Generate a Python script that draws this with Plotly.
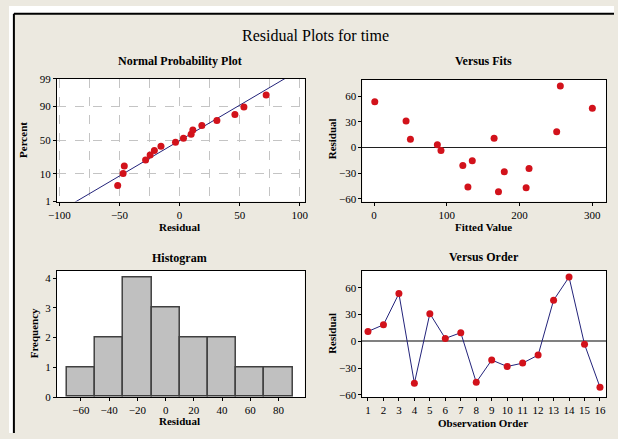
import plotly.graph_objects as go
from statistics import NormalDist, mean, stdev

# ---- data ----
observation = list(range(1, 17))
fitted = [165, 251, 1, 209, 44, 87, 50, 129, 122, 179, 213, 135, 300, 256, 92, 171]
residual = [11, 18.5, 53.5, -47, 31, 3.2, 9.6, -46, -21, -28.3, -24.5, -15.5, 46, 72, -3.4, -51.5]
pct_ticks = [1, 10, 50, 90, 99]
pct_labels = ["1", "10", "50", "90", "99"]

W, H = 618, 439
BG = "#ECE9E0"
RED = "#D2121B"
NAVY = "#23237A"
FONT = "Liberation Serif"

nd = NormalDist()
n = len(residual)
sorted_res = sorted(residual)
npp_z = [nd.inv_cdf((i + 1 - 0.3) / (n + 0.4)) for i in range(n)]
mu, sd = mean(residual), stdev(residual)
z_ticks = [nd.inv_cdf(p / 100) for p in pct_ticks]
line_z = [-2.6, 2.6]
line_x = [mu + sd * z for z in line_z]


def px(x):
    return x / W


def py(y):
    return 1 - y / H


fig = go.Figure()

# Normal probability plot
fig.add_trace(go.Scatter(x=line_x, y=line_z, mode="lines", line=dict(color=NAVY, width=1),
                         xaxis="x", yaxis="y", hoverinfo="skip"))
fig.add_trace(go.Scatter(x=sorted_res, y=npp_z, mode="markers",
                         marker=dict(color=RED, size=7), xaxis="x", yaxis="y"))
# Versus fits
fig.add_trace(go.Scatter(x=fitted, y=residual, mode="markers",
                         marker=dict(color=RED, size=7), xaxis="x2", yaxis="y2"))
# Histogram
fig.add_trace(go.Histogram(x=residual, xbins=dict(start=-70, end=90, size=20),
                           marker=dict(color="#C0C0C0", line=dict(color="#404040", width=1.5)),
                           xaxis="x3", yaxis="y3"))
# Versus order
fig.add_trace(go.Scatter(x=observation, y=residual, mode="lines+markers",
                         line=dict(color=NAVY, width=1),
                         marker=dict(color=RED, size=7), xaxis="x4", yaxis="y4"))

common = dict(showline=True, mirror=True, linecolor="black", linewidth=1,
              ticks="outside", ticklen=3, tickcolor="black",
              tickfont=dict(family=FONT, size=11, color="black"),
              zeroline=False, showgrid=False, fixedrange=True)

fig.update_layout(
    width=W, height=H, margin=dict(l=0, r=0, t=0, b=0),
    paper_bgcolor=BG, plot_bgcolor="white", showlegend=False, bargap=0,
    xaxis=dict(common, domain=[px(49), px(302)], range=[-102, 104], anchor="y",
               tickvals=[-100, -50, 0, 50, 100], showgrid=True, gridcolor="#C4C4C4",
               griddash="dash", minor=dict(tickvals=[-75, -25, 25, 75], showgrid=True,
                                           gridcolor="#C4C4C4", griddash="dash")),
    yaxis=dict(common, domain=[py(201), py(75)], range=[z_ticks[0], z_ticks[-1]], anchor="x",
               tickvals=z_ticks, ticktext=pct_labels, showgrid=True, gridcolor="#C4C4C4",
               griddash="dash"),
    xaxis2=dict(common, domain=[px(361), px(610)], range=[-16, 319], anchor="y2",
                tickvals=[0, 100, 200, 300]),
    yaxis2=dict(common, domain=[py(201), py(76)], range=[-63, 79], anchor="x2",
                tickvals=[-60, -30, 0, 30, 60], zeroline=True, zerolinecolor="#202020",
                zerolinewidth=1),
    xaxis3=dict(common, domain=[px(49), px(302)], range=[-77, 98.5], anchor="y3",
                tickvals=[-60, -40, -20, 0, 20, 40, 60, 80]),
    yaxis3=dict(common, domain=[py(402), py(272)], range=[0, 4.25], anchor="x3",
                tickvals=[0, 1, 2, 3, 4]),
    xaxis4=dict(common, domain=[px(361), px(610)], range=[0.64, 16.4], anchor="y4",
                tickvals=observation),
    yaxis4=dict(common, domain=[py(402), py(272)], range=[-62.5, 79.3], anchor="x4",
                tickvals=[-60, -30, 0, 30, 60], zeroline=True, zerolinecolor="#808080",
                zerolinewidth=2),
)

# white strips outside the framed graph region and the frame itself
fig.add_shape(type="rect", xref="paper", yref="paper", x0=0, x1=1, y0=py(8), y1=1,
              fillcolor="white", line=dict(width=0))
fig.add_shape(type="rect", xref="paper", yref="paper", x0=0, x1=px(5), y0=0, y1=1,
              fillcolor="white", line=dict(width=0))
fig.add_shape(type="line", xref="paper", yref="paper", x0=px(5), x1=1, y0=py(8), y1=py(8),
              line=dict(color="black", width=2))
fig.add_shape(type="line", xref="paper", yref="paper", x0=px(5), x1=px(5), y0=0, y1=py(8),
              line=dict(color="black", width=2))


def label(text, x, y, size=11, bold=True, angle=0):
    fig.add_annotation(text=f"<b>{text}</b>" if bold else text, x=px(x), y=py(y),
                       xref="paper", yref="paper", showarrow=False, textangle=angle,
                       xanchor="center", yanchor="middle",
                       font=dict(family=FONT, size=size, color="black"))


label("Residual Plots for time", 313, 30, size=16, bold=False)
label("Normal Probability Plot", 175, 57, size=12)
label("Versus Fits", 485, 57, size=12)
label("Histogram", 174, 259, size=12)
label("Versus Order", 485, 258, size=12)
label("Residual", 174, 227)
label("Fitted Value", 485, 227)
label("Residual", 174, 427)
label("Observation Order", 484, 429)
label("Percent", 15, 138, angle=-90)
label("Residual", 330, 137, angle=-90)
label("Frequency", 25, 336, angle=-90)
label("Residual", 330, 337, angle=-90)

fig.write_html("out.html", config={"displayModeBar": False},
               post_script="document.body.style.margin='0';document.body.style.overflow='hidden';")
